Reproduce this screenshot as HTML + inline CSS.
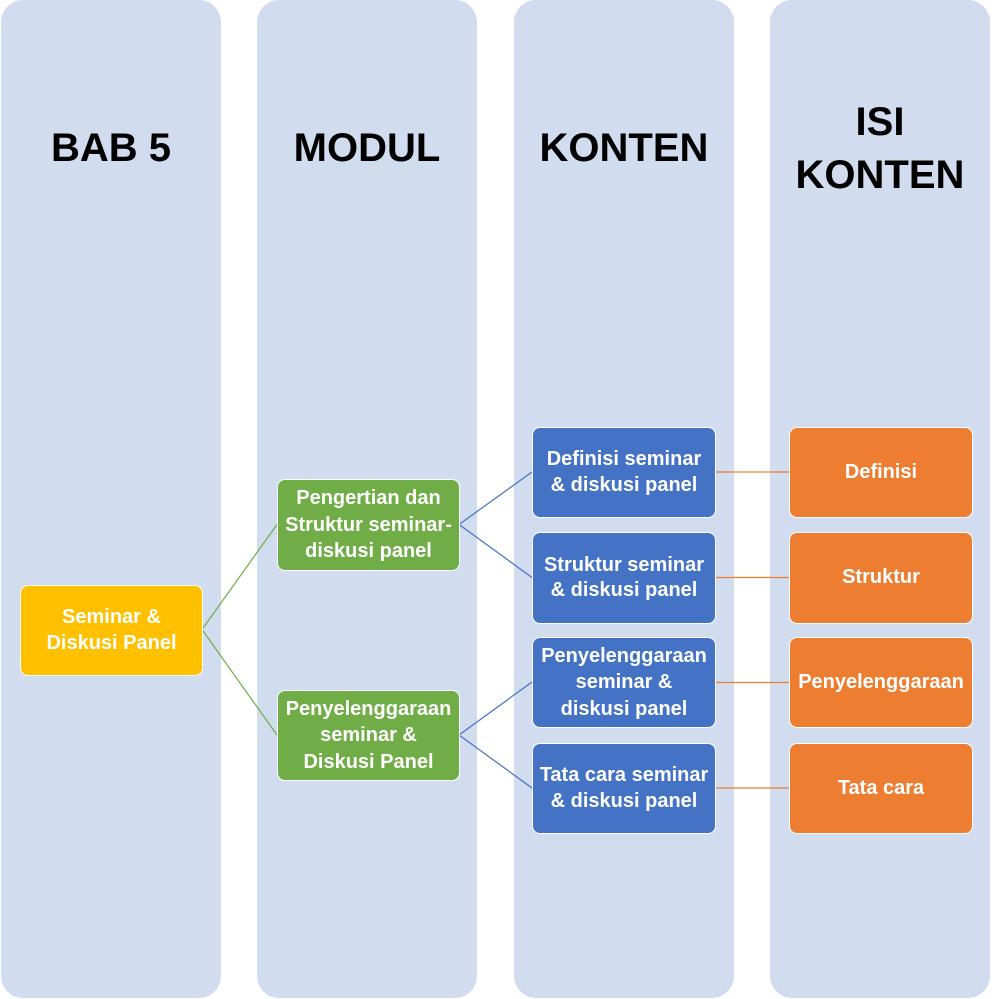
<!DOCTYPE html>
<html>
<head>
<meta charset="utf-8">
<style>
  html, body { margin:0; padding:0; background:#fff; }
  body { width:992px; height:999px; position:relative; overflow:hidden; font-family:"Liberation Sans", Arial, sans-serif; }
  .col { position:absolute; top:0; width:220px; height:998px; background:#D1DCEE; border-radius:22px; }
  .hdr { position:absolute; width:220px; text-align:center; font-weight:bold; font-size:40px; color:#000; line-height:53px; }
  .node { position:absolute; box-sizing:border-box; border:1px solid #fff; border-radius:8px; color:#fff; font-weight:bold; font-size:20px; line-height:25.5px; display:flex; align-items:center; justify-content:center; text-align:center; white-space:nowrap; }
  .y { background:#FFC000; }
  .g { background:#70AD47; }
  .b { background:#4472C4; }
  .o { background:#ED7D31; }
  svg { position:absolute; left:0; top:0; }
</style>
</head>
<body>
  <div class="col" style="left:1px;"></div>
  <div class="col" style="left:257px;"></div>
  <div class="col" style="left:514px;"></div>
  <div class="col" style="left:770px;"></div>

  <div class="hdr" style="left:1px; top:122px;">BAB 5</div>
  <div class="hdr" style="left:257px; top:122px;">MODUL</div>
  <div class="hdr" style="left:514px; top:122px;">KONTEN</div>
  <div class="hdr" style="left:770px; top:96px;">ISI<br>KONTEN</div>

  <svg width="992" height="999" viewBox="0 0 992 999">
    <g stroke="#70AD47" stroke-width="1.2" fill="none">
      <line x1="202" y1="629.5" x2="277" y2="524.5"/>
      <line x1="202" y1="629.5" x2="277" y2="735"/>
    </g>
    <g stroke="#4472C4" stroke-width="1.2" fill="none">
      <line x1="459" y1="524.5" x2="532" y2="472"/>
      <line x1="459" y1="524.5" x2="532" y2="577.5"/>
      <line x1="459" y1="735" x2="532" y2="682"/>
      <line x1="459" y1="735" x2="532" y2="788"/>
    </g>
    <g stroke="#ED7D31" stroke-width="1.2" fill="none">
      <line x1="715" y1="472" x2="789" y2="472"/>
      <line x1="715" y1="577.5" x2="789" y2="577.5"/>
      <line x1="715" y1="682.5" x2="789" y2="682.5"/>
      <line x1="715" y1="788" x2="789" y2="788"/>
    </g>
  </svg>

  <div class="node y" style="left:20px; top:585px; width:183px; height:91px;">Seminar &amp;<br>Diskusi Panel</div>

  <div class="node g" style="left:277px; top:479px; width:183px; height:92px; line-height:26.5px;">Pengertian dan<br>Struktur seminar-<br>diskusi panel</div>
  <div class="node g" style="left:277px; top:690px; width:183px; height:91px; line-height:26.5px;">Penyelenggaraan<br>seminar &amp;<br>Diskusi Panel</div>

  <div class="node b" style="left:532px; top:427px; width:184px; height:91px;">Definisi seminar<br>&amp; diskusi panel</div>
  <div class="node b" style="left:532px; top:532px; width:184px; height:92px;">Struktur seminar<br>&amp; diskusi panel</div>
  <div class="node b" style="left:532px; top:637px; width:184px; height:91px; line-height:26.5px;">Penyelenggaraan<br>seminar &amp;<br>diskusi panel</div>
  <div class="node b" style="left:532px; top:743px; width:184px; height:91px;">Tata cara seminar<br>&amp; diskusi panel</div>

  <div class="node o" style="left:789px; top:427px; width:184px; height:91px;">Definisi</div>
  <div class="node o" style="left:789px; top:532px; width:184px; height:92px;">Struktur</div>
  <div class="node o" style="left:789px; top:637px; width:184px; height:91px;">Penyelenggaraan</div>
  <div class="node o" style="left:789px; top:743px; width:184px; height:91px;">Tata cara</div>
</body>
</html>
